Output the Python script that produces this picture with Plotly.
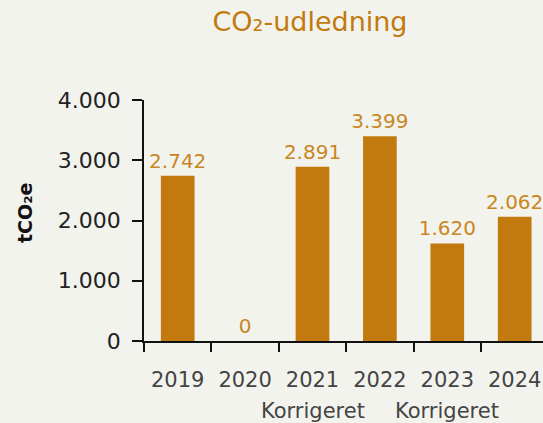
import plotly.graph_objects as go

years = ["2019", "2020", "2021", "2022", "2023", "2024"]
notes = ["", "", "Korrigeret", "", "Korrigeret", ""]
values = [2742, 0, 2891, 3399, 1620, 2062]
y_ticks = [0, 1000, 2000, 3000, 4000]

def fmt(v):
    return f"{v:,}".replace(",", ".")

W, H = 543, 423
ML, MR, MT, MB = 144, 0, 100, 82
PW, PH = W - ML - MR, H - MT - MB
BAR = "#C27A0E"
TXT = "#C98622"
BG = "#F3F3EE"
FONT = "DejaVu Sans"

fig = go.Figure(go.Bar(
    x=years, y=values,
    marker=dict(color=BAR, line=dict(width=0)),
    text=[fmt(v) for v in values],
    textposition="outside",
    constraintext="none",
    textfont=dict(color=TXT, size=20, family=FONT),
    cliponaxis=False,
    width=0.5,
    hoverinfo="skip",
))

annotations = [dict(
    text="<b>tCO₂e</b>", textangle=-90, xref="paper", yref="paper",
    x=(25 - ML) / PW, y=(MT + PH - 213) / PH,
    xanchor="center", yanchor="middle", showarrow=False,
    font=dict(size=19, color="#111", family=FONT),
)]
for i, n in enumerate(notes):
    if n:
        annotations.append(dict(
            text=n, x=i, xref="x", yref="paper", y=(MT + PH - 411) / PH,
            xanchor="center", yanchor="middle", showarrow=False,
            font=dict(size=21, color="#444", family=FONT),
        ))

fig.update_layout(
    width=W, height=H,
    margin=dict(l=ML, r=MR, t=MT, b=MB, autoexpand=False),
    paper_bgcolor=BG, plot_bgcolor=BG,
    font=dict(family=FONT),
    separators=",.",
    showlegend=False,
    title=dict(text="CO₂-udledning", x=310 / W, xanchor="center", y=1 - 22 / H, yanchor="middle",
               font=dict(size=27, color="#C27A0E", family=FONT)),
    xaxis=dict(
        type="category", range=[-0.5, 5.42],
        tickmode="array", tickvals=years, ticktext=years, tickangle=0,
        tickson="boundaries", ticks="outside", ticklen=9, tickwidth=1.5, tickcolor="#111",
        showline=True, linecolor="#111", linewidth=1.5,
        showgrid=False, zeroline=False,
        tickfont=dict(size=21, color="#444", family=FONT),
        ticklabelstandoff=19,
    ),
    yaxis=dict(
        range=[0, 4000], tickvals=y_ticks, tickformat=",d",
        ticks="outside", ticklen=10, tickwidth=1.5, tickcolor="#111",
        showline=True, linecolor="#111", linewidth=1.5,
        showgrid=False, zeroline=False,
        tickfont=dict(size=22, color="#222", family=FONT),
        ticklabelstandoff=7,
    ),
    annotations=annotations,
)

fig.write_html(
    "out.html",
    config={"displayModeBar": False},
    post_script="document.body.style.margin='0';document.body.style.background='%s';"
                "document.documentElement.style.background='%s';" % (BG, BG),
)
